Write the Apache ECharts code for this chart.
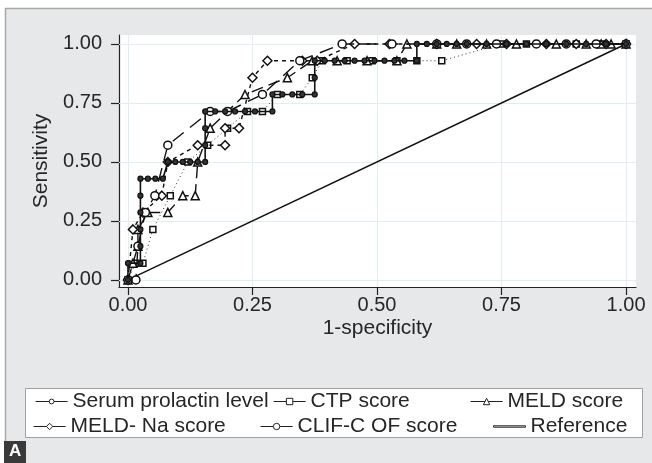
<!DOCTYPE html>
<html>
<head>
<meta charset="utf-8">
<script src="https://cdn.jsdelivr.net/npm/echarts@6/dist/echarts.min.js"></script>
<style>html,body{margin:0;padding:0;background:#fff}#c{width:652px;height:463px}</style>
</head>
<body>
<div id="c"></div>
<script>
// ---- data (1-specificity, sensitivity) ----
var tickValues = [0, 0.25, 0.5, 0.75, 1];
var seriesNames = ['Serum prolactin level', 'CTP score', 'MELD score', 'MELD- Na score', 'CLIF-C OF score', 'Reference'];

var prolactinX = [0,0,0.025,0.025,0.025,0.025,0.025,0.025,0.04,0.055,0.07,0.08,0.095,0.11,0.125,0.14,0.155,0.155,0.155,0.155,0.175,0.195,0.215,0.235,0.255,0.29,0.29,0.31,0.33,0.35,0.375,0.375,0.375,0.395,0.415,0.435,0.455,0.475,0.495,0.515,0.535,0.555,0.58,0.58,0.6,0.62,0.64,0.66,0.68,0.72,0.76,0.8,0.84,0.88,0.92,0.96,1];
var prolactinY = [0,0.071,0.071,0.143,0.214,0.286,0.357,0.429,0.429,0.429,0.429,0.5,0.5,0.5,0.5,0.5,0.5,0.571,0.643,0.714,0.714,0.714,0.714,0.714,0.714,0.714,0.786,0.786,0.786,0.786,0.786,0.857,0.929,0.929,0.929,0.929,0.929,0.929,0.929,0.929,0.929,0.929,0.929,1,1,1,1,1,1,1,1,1,1,1,1,1,1];

var ctpX = [0,0.015,0.03,0.05,0.085,0.12,0.16,0.2,0.24,0.27,0.3,0.345,0.37,0.39,0.44,0.49,0.54,0.58,0.63,0.75,0.8,0.9,0.95,1];
var ctpY = [0,0.071,0.071,0.214,0.357,0.5,0.571,0.643,0.714,0.714,0.786,0.786,0.857,0.929,0.929,0.929,0.929,0.929,0.929,1,1,1,1,1];

var meldX = [0,0.01,0.02,0.02,0.04,0.08,0.11,0.135,0.14,0.165,0.235,0.32,0.37,0.42,0.48,0.54,0.56,0.62,0.66,0.72,0.78,0.86,0.92,0.95,0.97,1];
var meldY = [0,0.071,0.143,0.214,0.286,0.286,0.357,0.357,0.5,0.643,0.786,0.857,0.929,0.929,0.929,0.929,1,1,1,1,1,1,1,1,1,1];

var meldNaX = [0,0.01,0.03,0.068,0.08,0.14,0.195,0.195,0.223,0.25,0.28,0.35,0.38,0.455,0.525,0.62,0.7,0.76,0.84,0.9,0.96,1];
var meldNaY = [0,0.214,0.286,0.357,0.5,0.571,0.571,0.643,0.643,0.857,0.929,0.929,0.929,1,1,1,1,1,1,1,1,1];

var clifX = [0,0.016,0.02,0.035,0.054,0.08,0.165,0.2,0.27,0.345,0.43,0.53,0.62,0.68,0.74,0.82,0.88,0.94,1];
var clifY = [0,0,0.143,0.286,0.357,0.571,0.714,0.714,0.786,0.929,1,1,1,1,1,1,1,1,1];

var refX = [0, 1];
var refY = [0, 1];

function pairs(xs, ys) { return xs.map(function (x, i) { return [x, ys[i]]; }); }

var chart = echarts.init(document.getElementById('c'), null, { renderer: 'canvas' });
var FONT = 'Liberation Sans';
var TXT = '#262626';

function legendAt(name, left, top, h, icon) {
  var item = icon ? { name: name, icon: icon } : name;
  return {
    data: [item], left: left, top: top, padding: 0, itemWidth: 32, itemHeight: h,
    textStyle: { fontFamily: FONT, fontSize: 21, color: TXT },
    lineStyle: { type: 'solid', width: 1.2, color: '#222' },
    itemStyle: { color: '#fff', borderColor: '#222', borderWidth: 1 }
  };
}

var markerStyle = { color: '#fff', borderColor: '#111', borderWidth: 1.5 };

chart.setOption({
  animation: false,
  backgroundColor: '#fff',
  graphic: [
    { type: 'rect', shape: { x: 5.5, y: 8.5, width: 660, height: 470 }, style: { fill: '#e7e8e9', stroke: '#a9a9a9', lineWidth: 1.5 }, z: -10 },
    { type: 'rect', shape: { x: 25.5, y: 388.5, width: 617, height: 49 }, style: { fill: '#fff', stroke: '#a0a0a0', lineWidth: 1 }, z: -5 },
    { type: 'rect', shape: { x: 4, y: 441, width: 22, height: 22 }, style: { fill: '#3a3a3a' }, z: 10 },
    { type: 'text', left: 9, top: 443, style: { text: 'A', fill: '#fff', font: 'bold 17px "Liberation Sans"' }, z: 11 }
  ],
  grid: { left: 119, top: 35, width: 517, height: 252, show: true, backgroundColor: '#fff', borderWidth: 0, containLabel: false },
  xAxis: {
    type: 'value', min: -0.018, max: 1.02,
    name: '1-specificity', nameLocation: 'middle', nameGap: 41, nameMoveOverlap: false,
    nameTextStyle: { fontFamily: FONT, fontSize: 21, color: TXT, verticalAlign: 'middle' },
    axisLine: { show: true, onZero: false, lineStyle: { color: '#222', width: 1.2 } },
    axisTick: { show: true, customValues: tickValues, length: 8, lineStyle: { color: '#222', width: 1.2 } },
    axisLabel: { customValues: tickValues, fontFamily: FONT, fontSize: 20, color: TXT, margin: 8, formatter: function (v) { return v.toFixed(2); } },
    splitLine: { show: false }
  },
  yAxis: {
    type: 'value', min: -0.03, max: 1.038,
    name: 'Sensitivity', nameLocation: 'middle', nameGap: 67, nameRotate: 90,
    nameTextStyle: { fontFamily: FONT, fontSize: 21, color: TXT },
    axisLine: { show: true, onZero: false, lineStyle: { color: '#222', width: 1.2 } },
    axisTick: { show: true, customValues: tickValues, length: 8, lineStyle: { color: '#222', width: 1.2 } },
    axisLabel: { customValues: tickValues, fontFamily: FONT, fontSize: 20, color: TXT, margin: 17, formatter: function (v) { return v.toFixed(2); } },
    splitLine: { show: false }
  },
  legend: [
    legendAt(seriesNames[0], 35, 391, 6),
    legendAt(seriesNames[1], 273, 391, 8),
    legendAt(seriesNames[2], 470, 391, 8),
    legendAt(seriesNames[3], 33, 416, 8),
    legendAt(seriesNames[4], 260, 416, 8),
    legendAt(seriesNames[5], 493, 416, 1.4, 'rect')
  ],
  series: [
    {
      name: 'grid', type: 'line', data: [], silent: true, z: 1,
      markLine: {
        silent: true, symbol: 'none', z: 1, animation: false,
        label: { show: false },
        lineStyle: { color: '#dfeeee', width: 1, type: 'solid' },
        data: tickValues.map(function (v) { return { xAxis: v }; }).concat(tickValues.map(function (v) { return { yAxis: v }; }))
      }
    },
    { name: seriesNames[5], type: 'line', data: pairs(refX, refY), showSymbol: false, symbol: 'none', z: 3,
      lineStyle: { color: '#111', width: 1.5, type: 'solid' }, itemStyle: { color: '#111' } },
    { name: seriesNames[1], type: 'line', data: pairs(ctpX, ctpY), symbol: 'rect', symbolSize: 6, z: 4,
      lineStyle: { color: '#333', width: 1, type: [1, 3] }, itemStyle: markerStyle },
    { name: seriesNames[2], type: 'line', data: pairs(meldX, meldY), symbol: 'triangle', symbolSize: 8, z: 5,
      lineStyle: { color: '#111', width: 1.4, type: [12, 6] }, itemStyle: markerStyle },
    { name: seriesNames[3], type: 'line', data: pairs(meldNaX, meldNaY), symbol: 'diamond', symbolSize: 9, z: 6,
      lineStyle: { color: '#111', width: 1.4, type: [4, 4] }, itemStyle: markerStyle },
    { name: seriesNames[4], type: 'line', data: pairs(clifX, clifY), symbol: 'circle', symbolSize: 8, z: 7,
      lineStyle: { color: '#111', width: 1.4, type: [14, 8] }, itemStyle: markerStyle },
    { name: seriesNames[0], type: 'line', data: pairs(prolactinX, prolactinY), symbol: 'circle', symbolSize: 5, z: 8,
      lineStyle: { color: '#111', width: 1.6, type: 'solid' }, itemStyle: { color: '#333', borderColor: '#111', borderWidth: 1.2 } }
  ]
});
</script>
</body>
</html>
